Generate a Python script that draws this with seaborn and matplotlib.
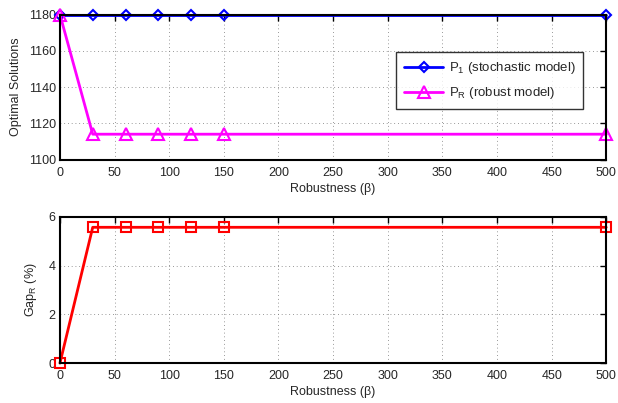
import matplotlib
matplotlib.use("Agg")
from matplotlib import pyplot as plt
import numpy as np
import pandas as pd
import seaborn as sns

beta = [0, 30, 60, 90, 120, 150, 500]
p1_stochastic = [1180, 1180, 1180, 1180, 1180, 1180, 1180]
pr_robust = [1180, 1114, 1114, 1114, 1114, 1114, 1114]
gap_r = [0, 5.57, 5.57, 5.57, 5.57, 5.57, 5.57]

sns.set_style("white")
plt.rcParams["font.family"] = ["Liberation Sans", "DejaVu Sans"]
plt.rcParams["mathtext.fontset"] = "custom"
plt.rcParams["mathtext.rm"] = "Liberation Sans"
plt.rcParams["mathtext.it"] = "Liberation Sans"

fs = 9
df = pd.DataFrame({"beta": beta, "p1": p1_stochastic, "pr": pr_robust, "gap": gap_r})

fig = plt.figure(figsize=(6.18, 4.03), dpi=100)
ax1 = fig.add_axes([0.097, 0.604, 0.884, 0.36])
ax2 = fig.add_axes([0.097, 0.099, 0.884, 0.363])

mk = dict(markerfacecolor="none", markeredgewidth=1.5, linewidth=2)
sns.lineplot(data=df, x="beta", y="p1", ax=ax1, color="#0000ff", marker="D",
             markersize=5.5, label="P$_1$ (stochastic model)", markeredgecolor="#0000ff", **mk)
sns.lineplot(data=df, x="beta", y="pr", ax=ax1, color="#ff00ff", marker="^",
             markersize=8, label="P$_R$ (robust model)", markeredgecolor="#ff00ff", **mk)
sns.lineplot(data=df, x="beta", y="gap", ax=ax2, color="#ff0000", marker="s",
             markersize=6.5, markeredgecolor="#ff0000", **mk)

ax1.set_ylim(1100, 1180)
ax1.set_yticks([1100, 1120, 1140, 1160, 1180])
ax1.set_ylabel("Optimal Solutions", fontsize=fs, labelpad=5)
ax2.set_ylim(0, 6)
ax2.set_yticks([0, 2, 4, 6])
ax2.set_ylabel("Gap$_R$ (%)", fontsize=fs, labelpad=7)

for ax in (ax1, ax2):
    ax.set_xlim(0, 500)
    ax.set_xticks(np.arange(0, 501, 50))
    ax.set_xlabel("Robustness (β)", fontsize=fs, labelpad=3)
    ax.grid(True, linestyle=(0, (1, 3.5)), color="#777777", linewidth=0.6)
    ax.tick_params(direction="in", length=4, width=1, labelsize=fs,
                   top=True, right=True, color="black")
    ax.tick_params(axis="x", pad=5)
    ax.tick_params(axis="y", pad=3)
    for s in ax.spines.values():
        s.set_linewidth(1.5)
        s.set_color("black")
        s.set_visible(True)
    for line in ax.get_lines():
        line.set_clip_on(False)

leg = ax1.legend(loc="upper left", bbox_to_anchor=(0.615, 0.74), fontsize=9.5,
                 frameon=True, fancybox=False, edgecolor="black", handlelength=3,
                 borderpad=0.6, labelspacing=0.7, handletextpad=0.4,
                 borderaxespad=0)
leg.get_frame().set_linewidth(1.0)

fig.savefig("out.png", dpi=100)
